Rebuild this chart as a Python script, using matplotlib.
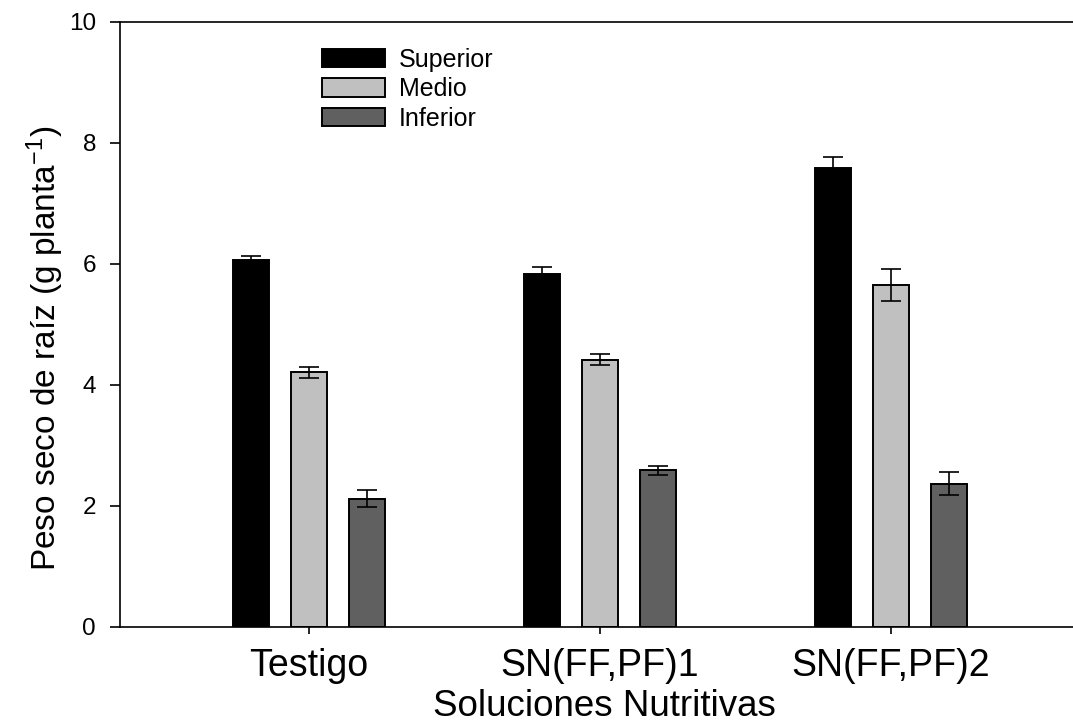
import matplotlib
matplotlib.use('Agg')
import matplotlib.pyplot as plt
import numpy as np

# Data
groups = ['Testigo', 'SN(FF,PF)1', 'SN(FF,PF)2']
series = ['Superior', 'Medio', 'Inferior']
superior = [6.07, 5.83, 7.58]
medio = [4.21, 4.42, 5.65]
inferior = [2.12, 2.59, 2.37]
superior_err = [0.07, 0.12, 0.19]
medio_err = [0.09, 0.09, 0.26]
inferior_err = [0.14, 0.07, 0.19]
y_ticks = [0, 2, 4, 6, 8, 10]

plt.rcParams['font.family'] = ['Liberation Sans', 'DejaVu Sans']
plt.rcParams['mathtext.default'] = 'regular'

fig = plt.figure(figsize=(10.73, 7.26), dpi=100)
ax = fig.add_axes([0.1118, 0.1364, 0.9021, 0.8333])

x = np.arange(len(groups))
width = 0.124
offsets = [-0.2, 0.0, 0.2]
colors = ['black', '#c0c0c0', '#606060']
values = [superior, medio, inferior]
errors = [superior_err, medio_err, inferior_err]

for name, vals, errs, off, col in zip(series, values, errors, offsets, colors):
    ax.bar(x + off, vals, width, color=col, edgecolor='black', linewidth=1.4,
           label=name, zorder=2)
    ax.errorbar(x + off, vals, yerr=errs, fmt='none', ecolor='black',
                elinewidth=1.2, capsize=7.2, capthick=1.2, zorder=3)

ax.set_xlim(-0.6495, 2.677)
ax.set_ylim(0, 10)
ax.set_yticks(y_ticks)
ax.set_xticks(x)
ax.set_xticklabels(groups)

ax.spines['right'].set_visible(False)
for s in ['left', 'top', 'bottom']:
    ax.spines[s].set_linewidth(1.2)

ax.tick_params(axis='y', direction='out', length=7.2, width=1.2, pad=10, labelsize=17.5)
ax.tick_params(axis='x', direction='out', length=5, width=1.2, pad=10, labelsize=27)

ax.set_xlabel('Soluciones Nutritivas', fontsize=26.5)
ax.xaxis.set_label_coords(0.5, -0.103)
ax.set_ylabel('Peso seco de raíz (g planta$^{-1}$)', fontsize=24)
ax.yaxis.set_label_coords(-0.0558, 0.46)

fig.legend(loc='upper left', bbox_to_anchor=(322 / 1073, 1 - 47.7 / 726),
           bbox_transform=fig.transFigure, frameon=False, fontsize=18,
           handlelength=2.52, handleheight=0.74, handletextpad=0.56,
           labelspacing=0.22, borderpad=0, borderaxespad=0)

plt.savefig('out.png', dpi=100)
